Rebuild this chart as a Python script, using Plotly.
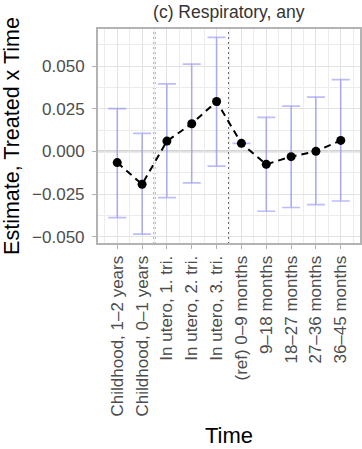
import plotly.graph_objects as go

categories = ["Childhood, 1\u20132 years", "Childhood, 0\u20131 years", "In utero, 1. tri.",
              "In utero, 2. tri.", "In utero, 3. tri.", "(ref) 0\u20139 months",
              "9\u201318 months", "18\u201327 months", "27\u201336 months", "36\u201345 months"]
estimate = [-0.0066, -0.0193, 0.0060, 0.0162, 0.0292, 0.0047, -0.0076, -0.0031, 0.0000, 0.0064]
upper = [0.0251, 0.0105, 0.0396, 0.0511, 0.0668, 0.0047, 0.0199, 0.0265, 0.0318, 0.0421]
lower = [-0.0388, -0.0485, -0.0271, -0.0185, -0.0086, 0.0047, -0.0351, -0.0329, -0.0312, -0.0291]
y_ticks = [-0.05, -0.025, 0.0, 0.025, 0.05]
period_breaks = [2.5, 5.5]

xpos = list(range(1, len(categories) + 1))
err_plus = [u - e for u, e in zip(upper, estimate)]
err_minus = [e - l for e, l in zip(estimate, lower)]

FONT = "Liberation Sans, Arial, sans-serif"

fig = go.Figure()
fig.add_trace(go.Scatter(
    x=xpos, y=estimate, mode="markers",
    marker=dict(size=0.1, color="rgba(0,0,0,0)"),
    error_y=dict(type="data", symmetric=False, array=err_plus, arrayminus=err_minus,
                 color="rgba(70,70,255,0.36)", thickness=1.7, width=9),
    showlegend=False, hoverinfo="skip"))
fig.add_trace(go.Scatter(
    x=xpos, y=estimate, mode="lines+markers",
    line=dict(color="black", width=2, dash="7px,5px"),
    marker=dict(size=9, color="black"),
    showlegend=False))

# zero line
fig.add_shape(type="line", xref="paper", x0=0, x1=1, yref="y", y0=0, y1=0,
              line=dict(color="#a8a8a8", width=1.6), layer="between")
for b in period_breaks:
    fig.add_shape(type="line", xref="x", x0=b, x1=b, yref="paper", y0=0, y1=1,
                  line=dict(color="#5a5a5a", width=1.8, dash="2px,3px"), layer="between")
# panel border
fig.add_shape(type="rect", xref="paper", yref="paper", x0=0, x1=1, y0=0, y1=1,
              line=dict(color="#b3b3b3", width=2))

fig.update_layout(
    width=362, height=449,
    margin=dict(l=97, r=1, t=28, b=205, autoexpand=False),
    paper_bgcolor="white", plot_bgcolor="white",
    font=dict(family=FONT, color="#4d4d4d", size=17),
    title=dict(text="(c) Respiratory, any", x=0.632, xanchor="center", y=0.973, yanchor="middle",
               font=dict(size=17.5, color="#333333", family=FONT)),
    xaxis=dict(
        automargin=False,
        range=[0.185, 10.815], tickvals=xpos, ticktext=categories, tickangle=-90,
        ticks="outside", ticklen=4, tickcolor="#b3b3b3", tickwidth=1.2,
        showgrid=True, gridcolor="#e2e2e2", gridwidth=1.2, zeroline=False,
        minor=dict(tick0=0.5, dtick=1, showgrid=True, gridcolor="#ececec", gridwidth=0.9),
        tickfont=dict(size=17, color="#4d4d4d"),
        title=dict(text="Time", font=dict(size=22, color="black"), standoff=12),
    ),
    yaxis=dict(
        automargin=False,
        range=[-0.0543, 0.0723], tickvals=y_ticks, tickformat=".3f",
        ticks="outside", ticklen=4, tickcolor="#b3b3b3", tickwidth=1.2,
        showgrid=True, gridcolor="#e2e2e2", gridwidth=1.2, zeroline=False,
        minor=dict(tick0=0.0125, dtick=0.025, showgrid=True, gridcolor="#ececec", gridwidth=0.9),
        tickfont=dict(size=17, color="#4d4d4d"),
        ticklabelstandoff=4,
        title=dict(text="Estimate, Treated x Time", font=dict(size=21.5, color="black"), standoff=6),
    ),
)

fig.write_html("out.html", config={"displayModeBar": False},
               post_script="document.body.style.margin='0';document.body.style.overflow='hidden';")
